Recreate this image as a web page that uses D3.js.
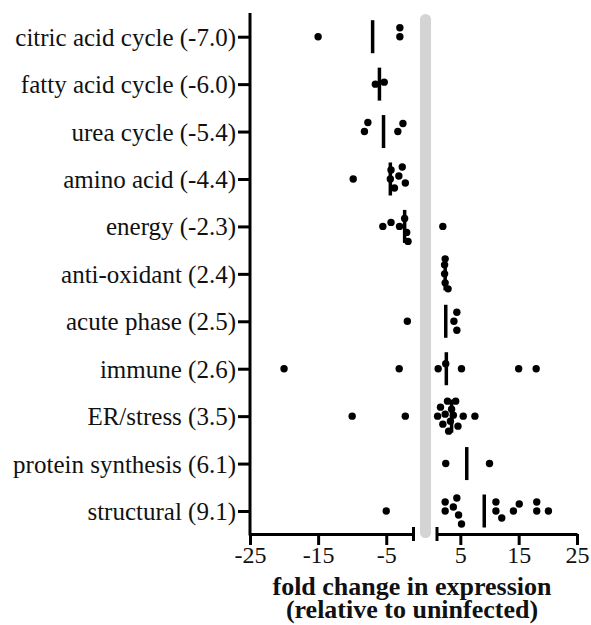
<!DOCTYPE html>
<html>
<head>
<meta charset="utf-8">
<script src="https://cdn.jsdelivr.net/npm/d3@7"></script>
<style>
  html, body { margin: 0; padding: 0; background: #fff; }
  svg { display: block; }
</style>
</head>
<body>
<svg id="chart" width="591" height="625"></svg>
<script>
// ---- data ----
const categories = [
  "citric acid cycle", "fatty acid cycle", "urea cycle", "amino acid", "energy",
  "anti-oxidant", "acute phase", "immune", "ER/stress", "protein synthesis", "structural"
];
const medians = [-7.0, -6.0, -5.4, -4.4, -2.3, 2.4, 2.5, 2.6, 3.5, 6.1, 9.1];
const citricValues = [-15.0, -3.0, -3.0];
const fattyValues = [-6.6, -5.3];
const ureaValues = [-8.2, -7.7, -3.3, -2.55];
const aminoValues = [-9.85, -4.4, -4.3, -3.8, -3.15, -2.65, -2.2];
const energyValues = [-5.5, -4.3, -3.05, -2.3, -2.0, -1.8, 2.0];
const antioxValues = [2.3, 2.3, 2.4, 2.4, 2.9];
const acuteValues = [-1.9, 3.9, 4.4, 4.4];
const immuneValues = [-20.0, -3.1, 1.2, 2.5, 5.2, 15.0, 18.0];
const erValues = [-10.0, -2.2, 1.1, 1.6, 2.0, 2.4, 2.8, 3.0, 3.3, 3.5, 3.8, 4.2, 4.6, 5.5, 7.5];
const proteinValues = [2.5, 10.0];
const structuralValues = [-5.0, 2.4, 2.4, 3.8, 4.7, 4.4, 5.2, 11.1, 11.1, 12.1, 14.1, 15.1, 18.1, 18.1, 20.1];
const seriesValues = [citricValues, fattyValues, ureaValues, aminoValues, energyValues,
  antioxValues, acuteValues, immuneValues, erValues, proteinValues, structuralValues];
const leftTicks = [-25, -15, -5];
const rightTicks = [5, 15, 25];

// ---- scales ----
const svg = d3.select("#chart");
const xL = d3.scaleLinear().domain([-25, -1]).range([250, 413.5]);
const xR = d3.scaleLinear().domain([1, 25]).range([437, 577]);
const xv = v => v < 0 ? xL(v) : xR(v);
const y = d3.scalePoint().domain(categories).range([36.7, 511]);
const axisTop = 13, axisBottom = 534;
const serif = "'Liberation Serif', 'Times New Roman', Times, serif";

// gray break bar at zero
svg.append("rect")
  .attr("x", 420).attr("y", 14).attr("width", 11).attr("height", 524)
  .attr("rx", 5.5).attr("fill", "#d4d4d4");

// y axis
const yAxis = d3.axisLeft(y).tickSize(12).tickPadding(2)
  .tickFormat((d, i) => `${d} (${medians[i].toFixed(1)})`);
const gy = svg.append("g").attr("transform", "translate(250,0)").call(yAxis);
gy.select(".domain").remove();
gy.selectAll(".tick line").attr("stroke", "#000").attr("stroke-width", 3);
gy.selectAll(".tick text").attr("font-family", serif).attr("font-size", 25).attr("fill", "#111")
  .attr("dy", "0.34em");
svg.append("line").attr("x1", 250).attr("x2", 250).attr("y1", axisTop).attr("y2", axisBottom + 1.5)
  .attr("stroke", "#000").attr("stroke-width", 3);

// x axes (broken)
const fmt = d => String(d);
function styleX(g) {
  g.select(".domain").attr("stroke-width", 3);
  g.selectAll(".tick line").attr("stroke-width", 3);
  g.selectAll(".tick text").attr("font-family", serif).attr("font-size", 24).attr("fill", "#111")
    .attr("dy", "0.72em");
}
svg.append("g").attr("transform", `translate(0,${axisBottom})`)
  .call(d3.axisBottom(xL).tickValues(leftTicks).tickFormat(fmt).tickSize(11).tickSizeOuter(0).tickPadding(1)).call(styleX);
svg.append("g").attr("transform", `translate(0,${axisBottom})`)
  .call(d3.axisBottom(xR).tickValues(rightTicks).tickFormat(fmt).tickSize(11).tickSizeOuter(0).tickPadding(1)).call(styleX);
// break caps
[xL(-1), xR(1)].forEach(cx => {
  svg.append("line").attr("x1", cx).attr("x2", cx).attr("y1", axisBottom - 7).attr("y2", axisBottom + 7)
    .attr("stroke", "#000").attr("stroke-width", 3);
});

// axis title
const title = svg.append("text").attr("text-anchor", "middle").attr("font-family", serif)
  .attr("font-weight", "bold").attr("font-size", 26).attr("fill", "#111");
title.append("tspan").attr("x", 412).attr("y", 595).text("fold change in expression");
title.append("tspan").attr("x", 412).attr("y", 618).text("(relative to uninfected)");

// median lines
svg.append("g").selectAll("line").data(categories).join("line")
  .attr("x1", (d, i) => xv(medians[i])).attr("x2", (d, i) => xv(medians[i]))
  .attr("y1", d => y(d) - 16.5).attr("y2", d => y(d) + 16.5)
  .attr("stroke", "#000").attr("stroke-width", 3.5);

// dots with a bounded beeswarm layout
const D = 9;
const maxOff = 15;
const dots = [];
categories.forEach((c, i) => {
  const placed = [];
  seriesValues[i].forEach(v => {
    const px = xv(v);
    let best = 0, bestDist = -1;
    for (let k = 0; k <= 2 * maxOff; k++) {
      const cand = k === 0 ? 0 : (k % 2 ? -Math.ceil(k / 2) : Math.ceil(k / 2));
      const md = placed.length ? d3.min(placed, p => Math.hypot(p.x - px, p.o - cand)) : Infinity;
      if (md >= D) { best = cand; bestDist = md; break; }
      if (md > bestDist) { bestDist = md; best = cand; }
    }
    placed.push({ x: px, o: best });
    dots.push({ x: px, y: y(c) + best });
  });
});
svg.append("g").selectAll("circle").data(dots).join("circle")
  .attr("cx", d => d.x).attr("cy", d => d.y).attr("r", 3.7).attr("fill", "#000");
</script>
</body>
</html>
